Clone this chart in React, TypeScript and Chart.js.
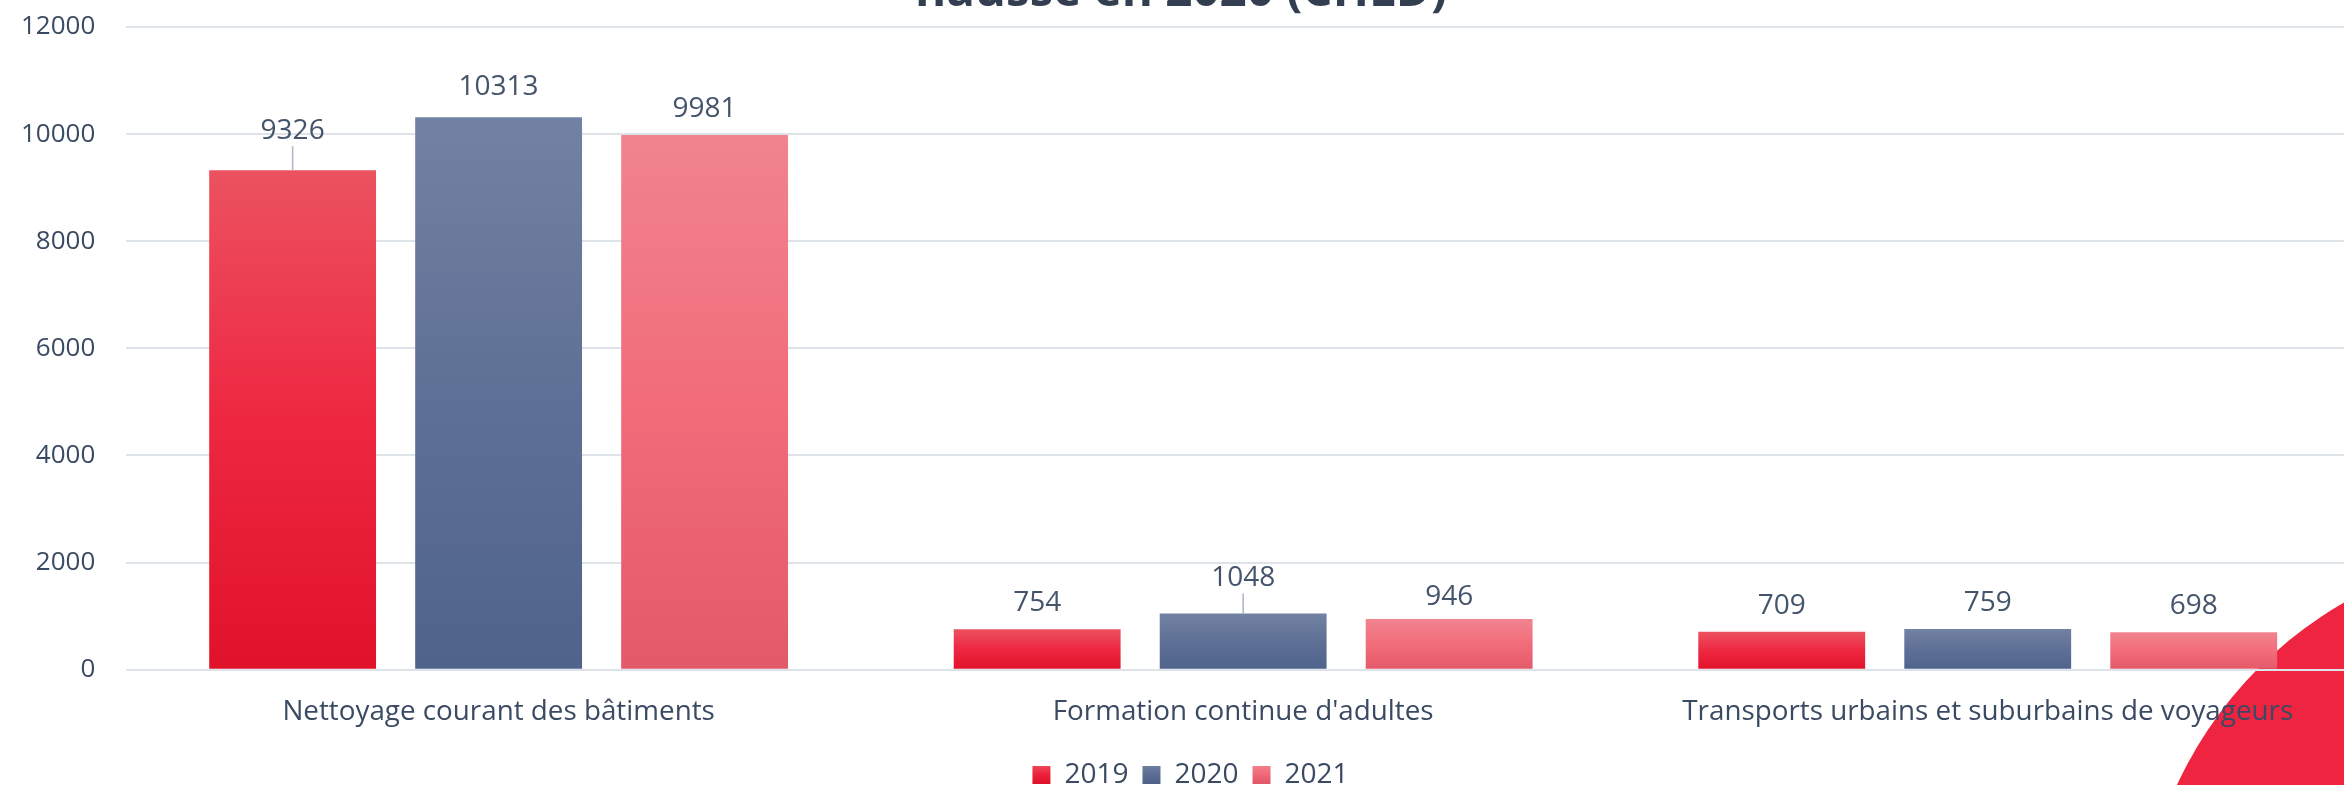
import React, { useEffect, useRef } from "react";
import { Chart, registerables } from "chart.js";

Chart.register(...registerables);

// ---------- data ----------
const CATEGORIES = [
  "Nettoyage courant des bâtiments",
  "Formation continue d'adultes",
  "Transports urbains et suburbains de voyageurs",
];
const SERIES_LABELS = ["2019", "2020", "2021"];
const VALUES_2019 = [9326, 754, 709];
const VALUES_2020 = [10313, 1048, 759];
const VALUES_2021 = [9981, 946, 698];
const Y_MIN = 0;
const Y_MAX = 12000;
const Y_STEP = 2000;
const TITLE_LINE = "hausse en 2020 (CHLD)";

// ---------- styles ----------
const FONT = '"Open Sans", "DejaVu Sans", sans-serif';
const TEXT = "#3B4A63";
const GRADIENTS = [
  ["#EB525F", "#EE2741", "#E0122A"],
  ["#7282A2", "#5F7096", "#4F638B"],
  ["#F0848F", "#F26C7A", "#E35969"],
];
// canvas is a bit larger than the view so the picture is cropped like the original
const W = 2370;
const H = 803;

function barGradient(ctx: any) {
  const stops = GRADIENTS[ctx.datasetIndex] || GRADIENTS[0];
  const chart = ctx.chart;
  if (ctx.type !== "data" || !chart.chartArea || !chart.scales || !chart.scales.y) return stops[1];
  const y = chart.scales.y;
  const top = y.getPixelForValue(ctx.raw);
  const base = y.getPixelForValue(0);
  if (!isFinite(top) || !isFinite(base) || base - top < 1) return stops[1];
  const g = chart.ctx.createLinearGradient(0, top, 0, base);
  g.addColorStop(0, stops[0]);
  g.addColorStop(0.5, stops[1]);
  g.addColorStop(1, stops[2]);
  return g;
}

const titlePlugin = {
  id: "croppedTitle",
  afterDraw(chart: any, _a: any, opts: any) {
    const c = chart.ctx;
    c.save();
    c.font = `bold 47.5px ${FONT}`;
    c.fillStyle = "#333F50";
    c.textAlign = "center";
    c.textBaseline = "alphabetic";
    c.fillText(opts.text, opts.x, opts.y);
    c.restore();
  },
};

const valueLabels = {
  id: "valueLabels",
  afterDatasetsDraw(chart: any, _a: any, opts: any) {
    const c = chart.ctx;
    c.save();
    c.font = `28px ${FONT}`;
    c.fillStyle = "#44546A";
    c.textAlign = "center";
    c.textBaseline = "middle";
    chart.data.datasets.forEach((ds: any, di: number) => {
      const meta = chart.getDatasetMeta(di);
      meta.data.forEach((bar: any, i: number) => {
        const key = `${di}-${i}`;
        const lift = opts.lifts[key] ?? opts.lift;
        const cy = bar.y - lift;
        c.fillText(String(ds.data[i]), bar.x, cy);
        if (opts.leaders.includes(key)) {
          c.strokeStyle = "#A9B4C6";
          c.lineWidth = 1.5;
          c.beginPath();
          c.moveTo(bar.x, cy + 15);
          c.lineTo(bar.x, bar.y);
          c.stroke();
        }
      });
    });
    c.restore();
  },
};

export default function App() {
  const ref = useRef<HTMLCanvasElement | null>(null);

  useEffect(() => {
    if (!ref.current) return;
    const chart = new Chart(ref.current, {
      type: "bar",
      data: {
        labels: CATEGORIES,
        datasets: [VALUES_2019, VALUES_2020, VALUES_2021].map((vals, i) => ({
          label: SERIES_LABELS[i],
          data: vals,
          backgroundColor: barGradient,
          borderWidth: 0,
          categoryPercentage: 0.83,
          barPercentage: 0.81,
        })),
      },
      options: {
        responsive: false,
        animation: false,
        devicePixelRatio: 1,
        layout: { padding: { left: 21, top: 27, right: 10, bottom: 4 } },
        scales: {
          x: {
            grid: { display: false },
            border: { display: false },
            ticks: {
              color: TEXT,
              font: { family: FONT, size: 27.8 },
              padding: 18,
              maxRotation: 0,
              autoSkip: false,
            },
          },
          y: {
            min: Y_MIN,
            max: Y_MAX,
            grid: { color: "#DEE3EA", lineWidth: 2, drawTicks: false },
            border: { display: false },
            ticks: {
              stepSize: Y_STEP,
              color: TEXT,
              font: { family: FONT, size: 26 },
              padding: 31,
              callback: (v: any) => String(v),
            },
            afterFit: (s: any) => {
              // Chart.js counts tick padding twice; keep it once, no extra top/bottom room
              s.width = s.width - s.options.ticks.padding;
              s.paddingTop = 0;
              s.paddingBottom = 0;
            },
          },
        },
        plugins: {
          title: { display: false },
          tooltip: { enabled: false },
          legend: {
            position: "bottom",
            labels: {
              color: TEXT,
              font: { family: FONT, size: 28 },
              boxWidth: 18,
              boxHeight: 18,
              padding: 14,
              generateLabels: (ch: any) => {
                const items = (Chart as any).defaults.plugins.legend.labels.generateLabels(ch);
                const lg = ch.legend;
                items.forEach((it: any, i: number) => {
                  const stops = GRADIENTS[i];
                  if (lg && lg.bottom > lg.top) {
                    const mid = (lg.top + lg.bottom) / 2;
                    const g = ch.ctx.createLinearGradient(0, mid - 9, 0, mid + 9);
                    g.addColorStop(0, stops[0]);
                    g.addColorStop(0.5, stops[1]);
                    g.addColorStop(1, stops[2]);
                    it.fillStyle = g;
                  } else {
                    it.fillStyle = stops[1];
                  }
                  it.strokeStyle = "rgba(0,0,0,0)";
                  it.lineWidth = 0;
                });
                return items;
              },
            },
          },
          croppedTitle: { text: TITLE_LINE, x: 1181, y: 6 },
          valueLabels: {
            lift: 26,
            lifts: { "0-0": 39, "1-0": 30, "1-1": 35, "2-1": 22 },
            leaders: ["0-0", "1-1"],
          },
        } as any,
      },
      plugins: [titlePlugin, valueLabels],
    });
    return () => chart.destroy();
  }, []);

  return (
    <div
      style={{
        position: "fixed",
        left: 0,
        top: 0,
        width: 2344,
        height: 785,
        overflow: "hidden",
        background: "#ffffff",
      }}
    >
      <div
        style={{
          position: "absolute",
          left: 2139,
          top: 548,
          width: 818,
          height: 818,
          borderRadius: "50%",
          background: "#EE2440",
        }}
      />
      <div style={{ position: "absolute", left: 0, top: 0, width: W, height: H }}>
        <canvas ref={ref} width={W} height={H} style={{ display: "block" }} />
      </div>
    </div>
  );
}
